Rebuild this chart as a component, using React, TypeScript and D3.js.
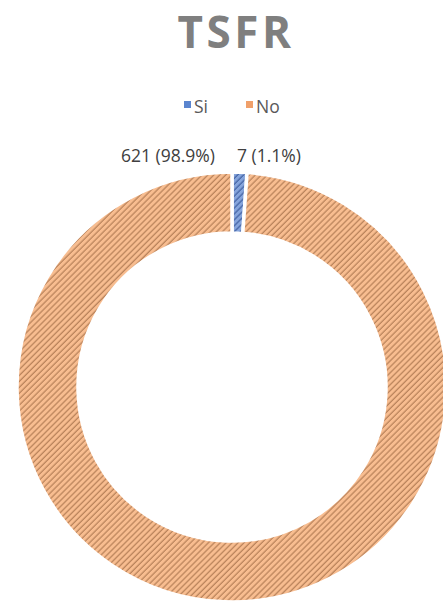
import React from 'react';
import * as d3 from 'd3';

// TSFR responses
const categories: string[] = ['Si', 'No'];
const values: number[] = [7, 621];
const baseColors: string[] = ['#86a5dc', '#f8bd90'];
const stripeColors: string[] = ['#3a5a9c', '#b07a52'];

const W = 443;
const H = 601;
const cx = 232;
const cy = 387;
const outerR = 215;
const innerR = 154;

export default function App() {
  const total = d3.sum(values);
  const pie = d3
    .pie<number>()
    .sort(null)
    .startAngle(0)
    .endAngle(2 * Math.PI)
    .padAngle(0)(values);
  const arc = d3.arc<d3.PieArcDatum<number>>().innerRadius(innerR).outerRadius(outerR);

  const labelFor = (v: number) => `${v} (${((v / total) * 100).toFixed(1)}%)`;
  const font = "'Open Sans', 'Liberation Sans', sans-serif";

  return (
    <svg
      width={W}
      height={H}
      style={{ position: 'absolute', left: 0, top: 0, background: '#fff' }}
    >
      <defs>
        {categories.map((c, i) => (
          <pattern
            key={c}
            id={`hatch-${i}`}
            patternUnits="userSpaceOnUse"
            width={4.2}
            height={4.2}
            patternTransform="rotate(45)"
          >
            <rect width={4.2} height={4.2} fill={baseColors[i]} />
            <line x1={1} y1={0} x2={1} y2={4.2} stroke={stripeColors[i]} strokeWidth={1.1} />
          </pattern>
        ))}
      </defs>

      <text
        x={236}
        y={48}
        textAnchor="middle"
        fontFamily={font}
        fontWeight={700}
        fontSize={44}
        letterSpacing={3.5}
        fill="#7f7f7f"
      >
        TSFR
      </text>

      {/* legend */}
      <g fontFamily={font} fontSize={17.5} fill="#595959">
        <rect x={184} y={101} width={7} height={7} fill="#5b85cf" />
        <text x={194} y={113}>{categories[0]}</text>
        <rect x={246} y={101} width={7} height={7} fill="#f0a06a" />
        <text x={256} y={113}>{categories[1]}</text>
      </g>

      {/* data labels */}
      <g fontFamily={font} fontSize={17.5} fill="#404040">
        <text x={215} y={162} textAnchor="end">{labelFor(values[1])}</text>
        <text x={237} y={162} textAnchor="start">{labelFor(values[0])}</text>
      </g>

      <g transform={`translate(${cx},${cy})`}>
        {pie.map((d, i) => (
          <path
            key={categories[i]}
            d={arc(d) || ''}
            fill={`url(#hatch-${i})`}
            stroke="#fff"
            strokeWidth={3.5}
          />
        ))}
      </g>
    </svg>
  );
}
